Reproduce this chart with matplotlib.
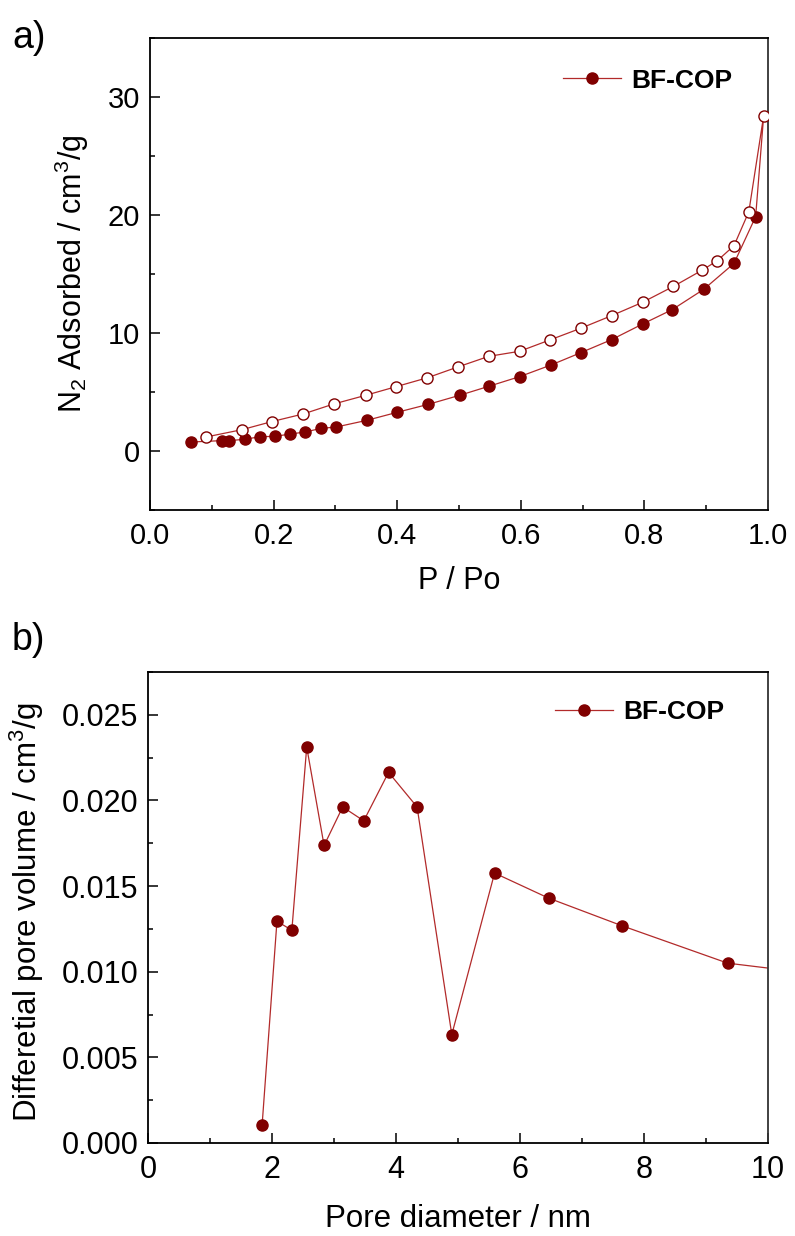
import numpy as np
import matplotlib
matplotlib.use('Agg')
import matplotlib.pyplot as plt
from matplotlib.ticker import MultipleLocator, FormatStrFormatter

plt.rcParams['font.family'] = ['Liberation Sans', 'DejaVu Sans']
plt.rcParams['mathtext.fontset'] = 'custom'
plt.rcParams['mathtext.rm'] = 'Liberation Sans'

# N2 isotherm, adsorption branch
p_ads = [0.066, 0.117, 0.128, 0.153, 0.178, 0.202, 0.227, 0.251, 0.277, 0.301,
         0.351, 0.400, 0.450, 0.501, 0.548, 0.598, 0.649, 0.697, 0.747, 0.797,
         0.845, 0.896, 0.945, 0.980]
v_ads = [0.76, 0.88, 0.88, 0.99, 1.21, 1.24, 1.44, 1.61, 1.92, 2.03,
         2.60, 3.28, 3.95, 4.72, 5.48, 6.30, 7.29, 8.33, 9.44, 10.76,
         11.98, 13.70, 15.90, 19.86]
# desorption branch
p_des = [0.993, 0.969, 0.945, 0.918, 0.894, 0.847, 0.797, 0.747, 0.697, 0.647,
         0.598, 0.548, 0.498, 0.449, 0.398, 0.349, 0.297, 0.248, 0.197, 0.149,
         0.091]
v_des = [28.42, 20.28, 17.40, 16.13, 15.34, 13.95, 12.60, 11.47, 10.40, 9.41,
         8.45, 8.02, 7.12, 6.21, 5.45, 4.72, 3.98, 3.14, 2.49, 1.81,
         1.19]

# pore size distribution
pore_d = [1.84, 2.08, 2.32, 2.56, 2.84, 3.14, 3.48, 3.88, 4.34, 4.90,
          5.59, 6.46, 7.64, 9.35, 11.8]
pore_v = [0.00103, 0.01295, 0.01242, 0.02312, 0.01737, 0.01962, 0.01881, 0.02164,
          0.01962, 0.00633, 0.01576, 0.01430, 0.01269, 0.01050, 0.00942]

line_c = '#b22a2a'
mark_c = '#800000'
W, H = 795, 1236

fig = plt.figure(figsize=(W / 100, H / 100), dpi=100)
ax1 = fig.add_axes([150 / W, 1 - 510 / H, 618 / W, 472 / H])
ax2 = fig.add_axes([148 / W, 1 - 1143 / H, 620 / W, 471 / H])


def style(ax, fs):
    for s in ax.spines.values():
        s.set_linewidth(1.3)
    ax.spines['right'].set_color('#333333')
    ax.tick_params(which='both', direction='in', top=False, right=False,
                   labelsize=fs, width=1.1)
    ax.tick_params(which='major', length=7, pad=7)
    ax.tick_params(which='minor', length=3.5)
    ax.tick_params(axis='x', which='major', pad=9)


# a) isotherm: one line through both branches, markers per branch
ax1.plot(p_ads + p_des, v_ads + v_des, '-', color=line_c, lw=0.9, zorder=2)
ax1.plot(p_ads, v_ads, 'o', color=mark_c, ms=8, zorder=3)
ax1.plot(p_des, v_des, 'o', mfc='white', mec=mark_c, mew=1.0, ms=8, zorder=3)
ax1.plot([], [], '-o', color=line_c, mfc=mark_c, mec=mark_c, ms=8, lw=0.9,
         label='BF-COP')
ax1.set_xlim(0, 1.0)
ax1.set_ylim(-5, 35)
ax1.xaxis.set_major_locator(MultipleLocator(0.2))
ax1.xaxis.set_minor_locator(MultipleLocator(0.1))
ax1.xaxis.set_major_formatter(FormatStrFormatter('%.1f'))
ax1.yaxis.set_major_locator(MultipleLocator(10))
ax1.yaxis.set_minor_locator(MultipleLocator(5))
style(ax1, 21)
ax1.set_xlabel('P / Po', fontsize=22, va='center')
ax1.xaxis.set_label_coords(0.5, -0.15)
ax1.set_ylabel('N$_2$ Adsorbed / cm$^3$/g', fontsize=22, va='center')
ax1.yaxis.set_label_coords(-0.126, 0.5)
ax1.legend(loc='upper right', bbox_to_anchor=(0.943, 0.935), frameon=False,
           prop={'weight': 'bold', 'size': 19}, handlelength=2.2,
           handletextpad=0.4, borderpad=0, borderaxespad=0)
fig.text(12 / W, 1 - 38 / H, 'a)', fontsize=27, va='center', ha='left')

# b) pore size distribution
ax2.plot(pore_d, pore_v, '-o', color=line_c, mfc=mark_c, mec=mark_c, ms=8,
         lw=0.9, label='BF-COP')
ax2.set_xlim(0, 10)
ax2.set_ylim(0, 0.0275)
ax2.xaxis.set_major_locator(MultipleLocator(2))
ax2.xaxis.set_minor_locator(MultipleLocator(1))
ax2.yaxis.set_major_locator(MultipleLocator(0.005))
ax2.yaxis.set_minor_locator(MultipleLocator(0.0025))
ax2.yaxis.set_major_formatter(FormatStrFormatter('%.3f'))
style(ax2, 22)
ax2.set_xlabel('Pore diameter / nm', fontsize=22.5, va='center')
ax2.xaxis.set_label_coords(0.5, -0.161)
ax2.set_ylabel('Differetial pore volume / cm$^3$/g', fontsize=22.5, va='center')
ax2.yaxis.set_label_coords(-0.195, 0.49)
ax2.legend(loc='upper right', bbox_to_anchor=(0.93, 0.94), frameon=False,
           prop={'weight': 'bold', 'size': 19}, handlelength=2.2,
           handletextpad=0.4, borderpad=0, borderaxespad=0)
fig.text(12 / W, 1 - 640 / H, 'b)', fontsize=27, va='center', ha='left')

fig.savefig('out.png', dpi=100)
